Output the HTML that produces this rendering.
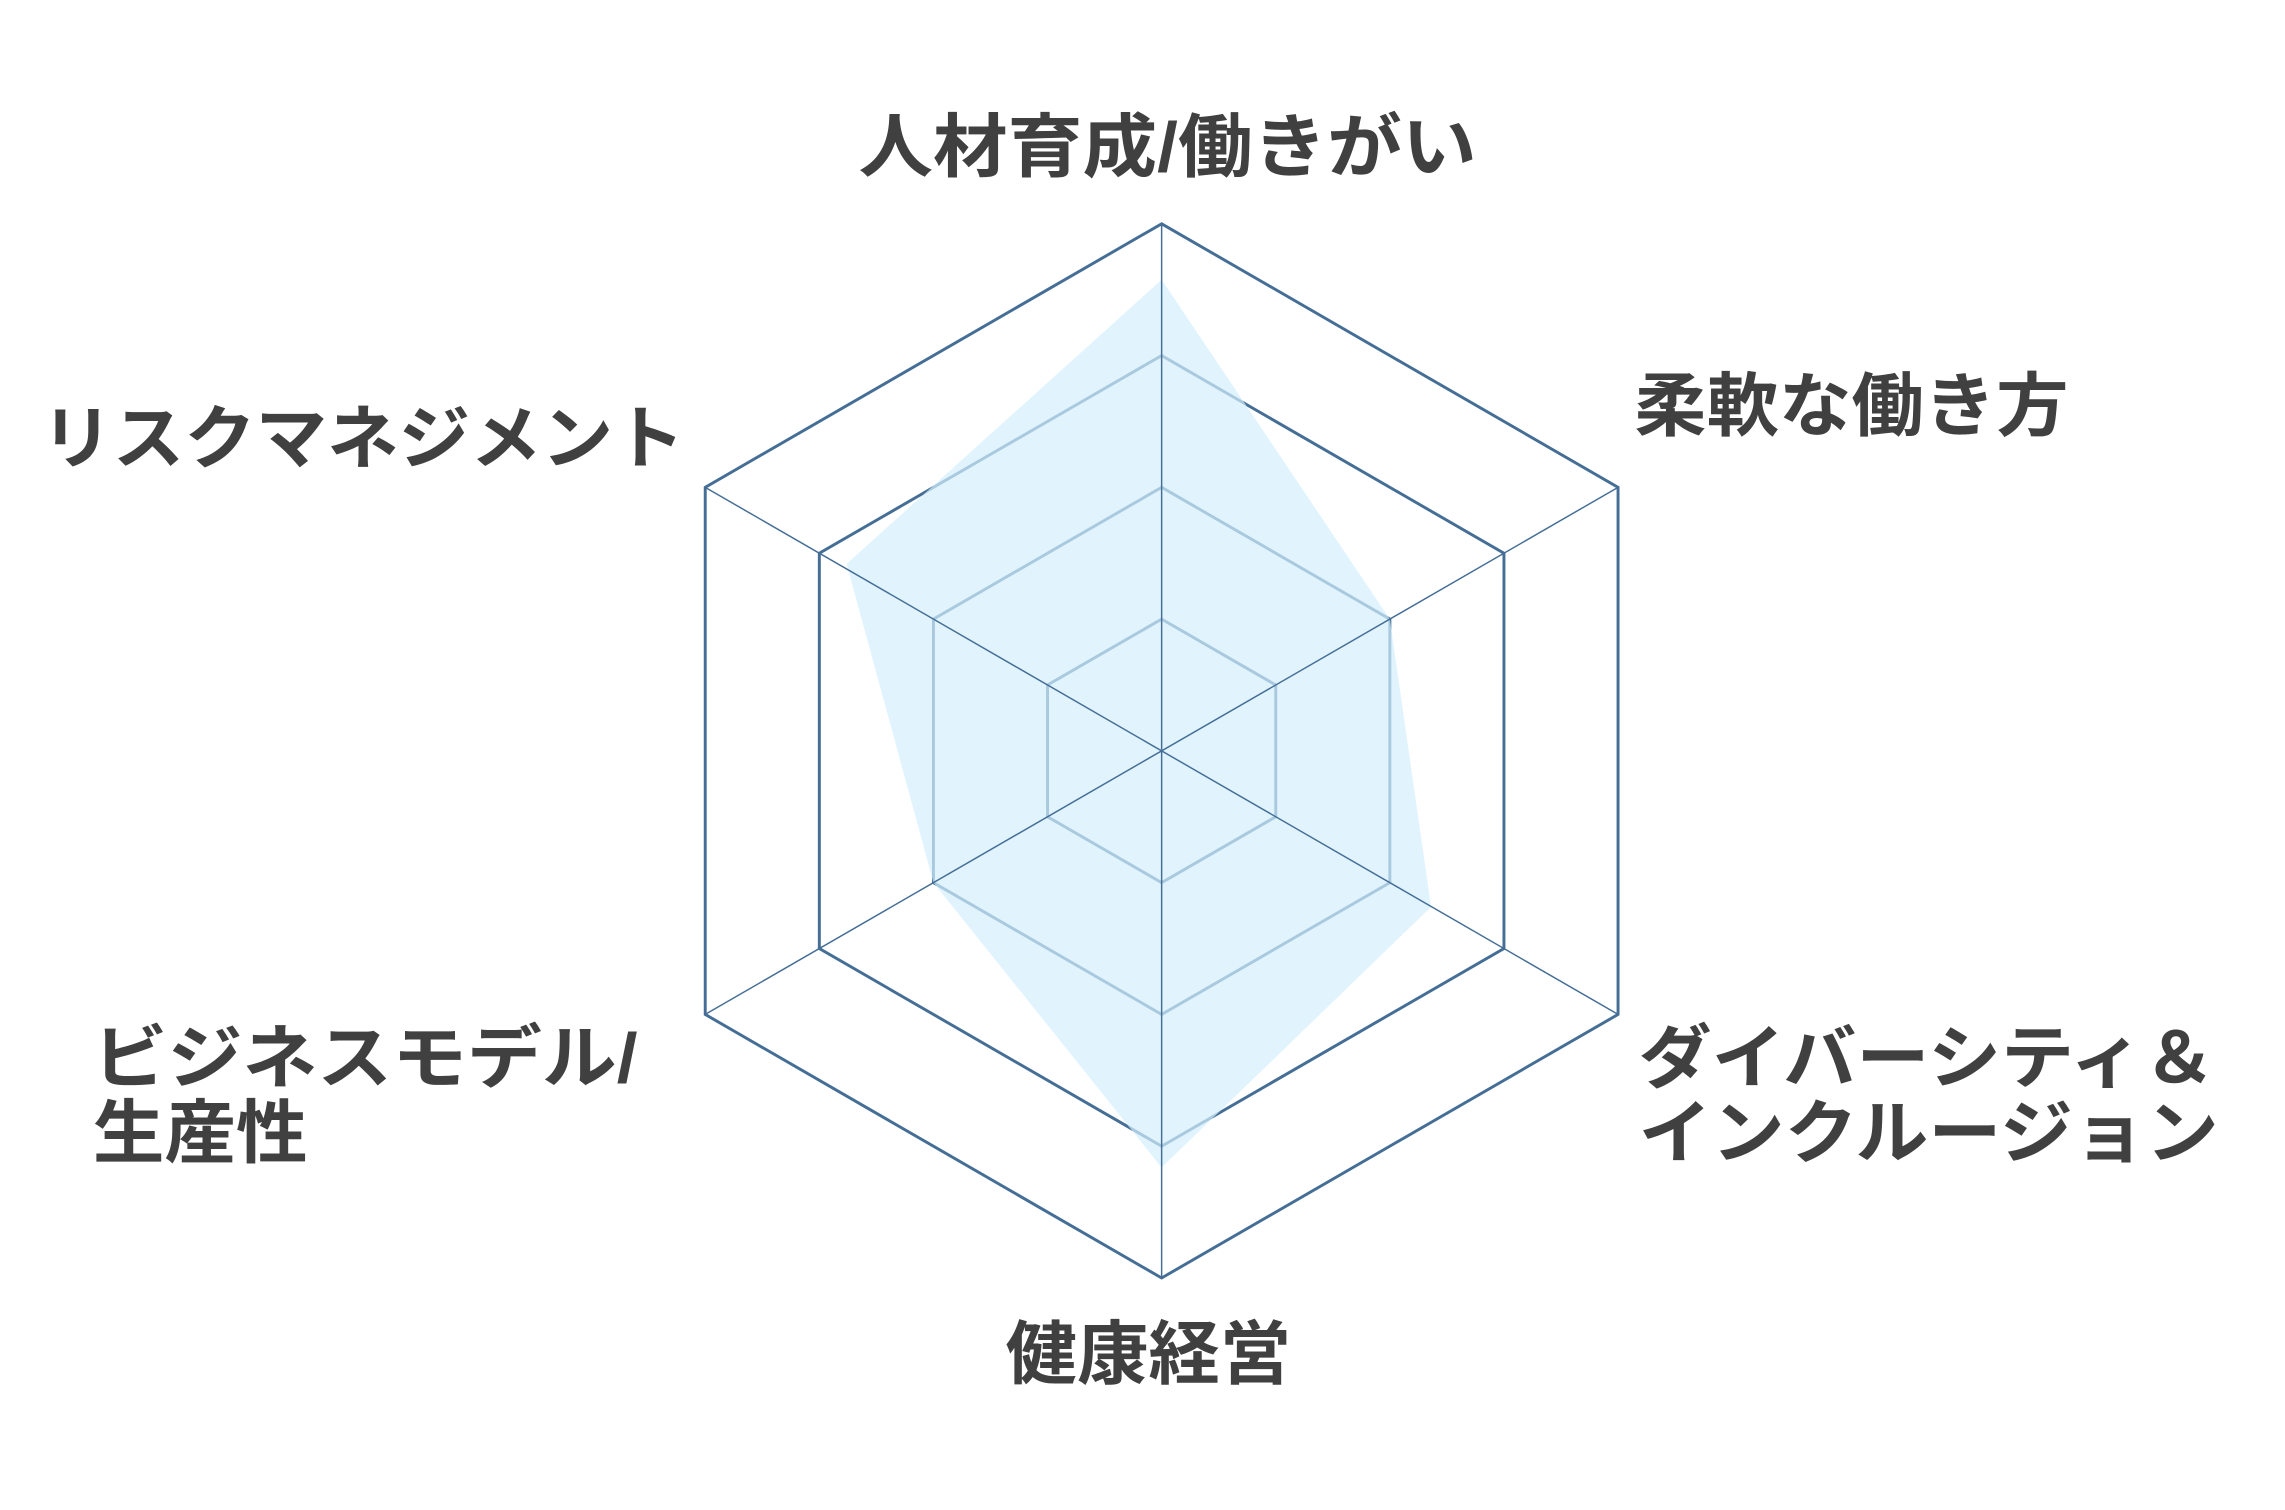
<!DOCTYPE html>
<html><head><meta charset="utf-8"><style>
html,body{margin:0;padding:0;background:#fff;}
svg{display:block;}
text{font-family:"Liberation Sans","Noto Sans CJK JP",sans-serif;font-weight:bold;fill:#404040;font-size:47px;}
</style></head><body>
<svg width="2285" height="1510" viewBox="0 0 1552 1025.6" preserveAspectRatio="none" xmlns="http://www.w3.org/2000/svg">
<g fill="none" stroke="#456e96" stroke-width="2">
<polygon points="789,152 1099,331 1099,689 789,868 479,689 479,331"/>
<polygon points="789,241.5 1021.5,375.75 1021.5,644.25 789,778.5 556.5,644.25 556.5,375.75"/>
<polygon points="789,331 944,420.5 944,599.5 789,689 634,599.5 634,420.5"/>
<polygon points="789,420.5 866.5,465.25 866.5,554.75 789,599.5 711.5,554.75 711.5,465.25"/>
</g>
<polygon points="789,190 944,420.5 972,616 789,793 634,599.5 575,383" fill="#d4effd" fill-opacity="0.7"/>
<g stroke="#456e96" stroke-width="1">
<line x1="789" y1="152" x2="789" y2="868"/>
<line x1="479" y1="331" x2="1099" y2="689"/>
<line x1="479" y1="689" x2="1099" y2="331"/>
</g>
<g>
<text x="583" y="116" textLength="420" lengthAdjust="spacingAndGlyphs">人材育成/働きがい</text>
<text x="1110" y="292" textLength="295" lengthAdjust="spacingAndGlyphs">柔軟な働き方</text>
<text x="28" y="314" textLength="437" lengthAdjust="spacingAndGlyphs">リスクマネジメント</text>
<text x="63" y="735" textLength="370" lengthAdjust="spacingAndGlyphs">ビジネスモデル/</text>
<text x="63" y="786" textLength="146" lengthAdjust="spacingAndGlyphs">生産性</text>
<text x="1113" y="735" textLength="392" lengthAdjust="spacingAndGlyphs">ダイバーシティ＆</text>
<text x="1113" y="786" textLength="394" lengthAdjust="spacingAndGlyphs">インクルージョン</text>
<text x="683" y="936" textLength="194" lengthAdjust="spacingAndGlyphs">健康経営</text>
</g>
</svg>
</body></html>
